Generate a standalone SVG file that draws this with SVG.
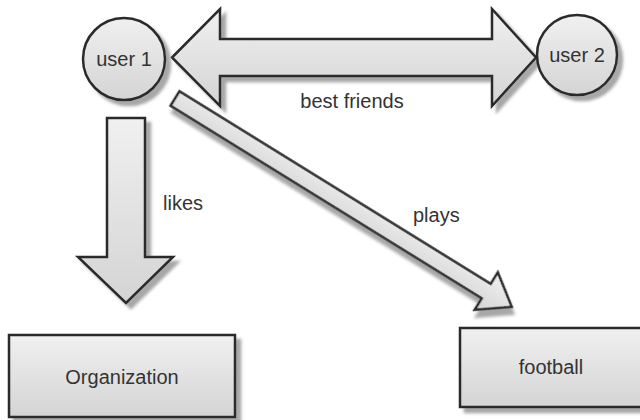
<svg xmlns="http://www.w3.org/2000/svg" width="640" height="420" viewBox="0 0 640 420">
  <defs>
    <linearGradient id="g" x1="0" y1="0" x2="0" y2="1">
      <stop offset="0" stop-color="#f0f0f0"/>
      <stop offset="1" stop-color="#d4d4d4"/>
    </linearGradient>
    <filter id="sh" x="-20%" y="-20%" width="140%" height="140%">
      <feGaussianBlur in="SourceAlpha" stdDeviation="1.5"/>
      <feOffset dx="5" dy="5" result="o"/>
      <feFlood flood-color="#8a8a8a" flood-opacity="0.75"/>
      <feComposite in2="o" operator="in"/>
      <feMerge><feMergeNode/><feMergeNode in="SourceGraphic"/></feMerge>
    </filter>
    <style>
      .shape{fill:url(#g);stroke:#2b2b2b;stroke-width:2.5;stroke-linejoin:miter;filter:url(#sh)}
      .t{font-family:"Liberation Sans",Arial,sans-serif;font-size:20px;fill:#333}
      .c{text-anchor:middle}
    </style>
  </defs>
  <rect width="640" height="420" fill="#ffffff"/>

  <g id="connectors">
    <g id="best-friends">
      <polygon class="shape" points="172,57.5 220,9 220,39 492,39 492,9 536,57.5 492,106 492,76 220,76 220,106"/>
      <text class="t c" x="352" y="108">best friends</text>
    </g>
    <g id="likes">
      <polygon class="shape" points="107,118 145,118 145,257 173,257 126,303 78,257 107,257"/>
      <text class="t" x="163" y="210">likes</text>
    </g>
    <g id="plays">
      <polygon class="shape" transform="translate(175,98.5) rotate(31.75)" points="0,-8.5 366,-8.5 366,-22 396,0 366,22 366,8.5 0,8.5"/>
      <text class="t" x="413" y="222">plays</text>
    </g>
  </g>

  <g id="user1">
    <circle class="shape" cx="124" cy="59" r="41"/>
    <text class="t c" x="124" y="66">user 1</text>
  </g>
  <g id="user2">
    <circle class="shape" cx="577" cy="55" r="40"/>
    <text class="t c" x="577" y="62">user 2</text>
  </g>
  <g id="organization">
    <rect class="shape" x="9" y="335" width="226" height="82"/>
    <text class="t c" x="122" y="384">Organization</text>
  </g>
  <g id="football">
    <rect class="shape" x="460" y="328" width="185" height="79"/>
    <text class="t c" x="551" y="374">football</text>
  </g>
</svg>
